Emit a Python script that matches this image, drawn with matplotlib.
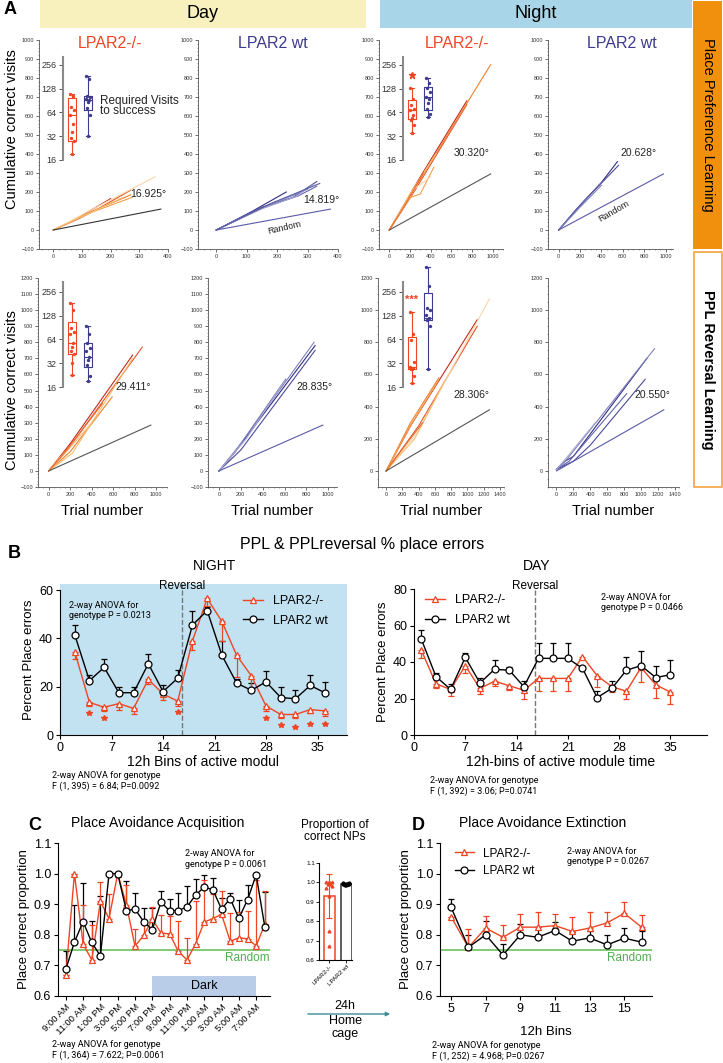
import numpy as np
import matplotlib
matplotlib.use('Agg')
import matplotlib.pyplot as plt
from matplotlib.patches import Rectangle, FancyArrowPatch

plt.rcParams['font.family'] = ['Liberation Sans', 'DejaVu Sans']
NARROW = ['Roboto', 'Liberation Sans', 'DejaVu Sans']

W, H = 723, 1063
RED = '#ee4524'
BLUE = '#3d3b8e'
GREEN = '#6cc35c'

# ---------------- data: panel A (trial number, cumulative correct visits) ----------------
day_ppl_ko = [
    [(0, 0), (70, 50), (200, 165)],
    [(0, 0), (90, 60), (160, 115), (270, 210)],
    [(0, 0), (130, 95), (270, 185)],
    [(0, 0), (110, 80), (275, 172)],
    [(0, 0), (150, 120), (355, 280)],
    [(0, 0), (100, 70), (240, 170)],
]
day_ppl_wt = [
    [(0, 0), (120, 100), (230, 200)],
    [(0, 0), (150, 120), (250, 170), (330, 255)],
    [(0, 0), (140, 110), (270, 180), (330, 230)],
    [(0, 0), (160, 120), (300, 215)],
    [(0, 0), (130, 100), (260, 175), (320, 240)],
    [(0, 0), (180, 140), (340, 245)],
]
night_ppl_ko = [
    [(0, 0), (300, 280), (750, 680)],
    [(0, 0), (250, 210), (750, 660)],
    [(0, 0), (200, 180), (980, 870)],
    [(0, 0), (200, 170), (300, 190), (430, 330)],
    [(0, 0), (250, 220), (400, 280)],
    [(0, 0), (200, 190), (450, 400)],
    [(0, 0), (150, 130), (330, 300)],
]
night_ppl_wt = [
    [(0, 0), (200, 130), (400, 250), (550, 360)],
    [(0, 0), (250, 160), (560, 340)],
    [(0, 0), (150, 100), (410, 255)],
    [(0, 0), (200, 120), (400, 235)],
]
day_rev_ko = [
    [(0, 0), (200, 170), (780, 720)],
    [(0, 0), (250, 200), (870, 770)],
    [(0, 0), (200, 120), (590, 460)],
    [(0, 0), (150, 110), (440, 330)],
    [(0, 0), (100, 80), (400, 300)],
    [(0, 0), (220, 110), (780, 700)],
    [(0, 0), (180, 140), (500, 420)],
]
day_rev_wt = [
    [(0, 0), (150, 120), (880, 780)],
    [(0, 0), (200, 130), (880, 750)],
    [(0, 0), (150, 120), (610, 570)],
    [(0, 0), (200, 170), (870, 800)],
    [(0, 0), (250, 200), (600, 560)],
]
night_rev_ko = [
    [(0, 0), (300, 280), (1120, 940)],
    [(0, 0), (400, 280), (1120, 900)],
    [(0, 0), (300, 300), (650, 580)],
    [(0, 0), (300, 280), (640, 560)],
    [(0, 0), (400, 250), (1270, 1070)],
    [(0, 0), (350, 200), (720, 560)],
    [(0, 0), (250, 170), (450, 300)],
]
night_rev_wt = [
    [(0, 10), (100, 60), (200, 90), (1070, 700)],
    [(0, 10), (200, 60), (400, 160), (1050, 570)],
    [(0, 10), (150, 60), (830, 480)],
    [(0, 10), (120, 70), (1160, 760)],
    [(0, 10), (100, 70), (460, 300)],
]
random_day_ppl = [(0, 0), (375, 110)]
random_night_ppl = [(0, 0), (980, 295)]
random_day_rev = [(0, 0), (950, 285)]
random_night_rev = [(0, 0), (1270, 380)]
angles = ['16.925°', '14.819°', '30.320°', '20.628°', '29.411°', '28.835°', '28.306°', '20.550°']

# inset box plots: required visits to success (whislo, q1, med, q3, whishi)
box_day_ppl = [(19, 28, 60, 98, 111), (32, 68, 92, 104, 186)]
box_night_ppl = [(35, 53, 68, 92, 131), (56, 68, 100, 134, 175)]
box_day_rev = [(23, 42, 58, 107, 186), (19, 29, 38, 57, 94)]
box_night_rev = [(18, 27, 29, 68, 143), (27, 112, 120, 250, 530)]
pts_day_ppl = [[111, 105, 75, 68, 60, 46, 36, 30, 28, 19], [186, 170, 104, 102, 96, 92, 88, 72, 60, 32]]
pts_night_ppl = [[131, 95, 80, 70, 68, 60, 55, 52, 45, 35], [175, 150, 130, 115, 100, 95, 85, 70, 62, 56]]
pts_day_rev = [[186, 150, 90, 80, 75, 58, 52, 45, 42, 32, 23], [94, 75, 57, 50, 45, 38, 35, 30, 22, 19]]
pts_night_rev = [[143, 75, 62, 33, 29, 28, 27, 27, 22, 18], [530, 300, 160, 150, 130, 120, 115, 112, 95, 27]]
outlier_night_ppl = 191

# ---------------- data: panel B ----------------
night_x = [2, 4, 6, 8, 10, 12, 14, 16, 18, 20, 22, 24, 26, 28, 30, 32, 34, 36]
night_ko = [34.5, 13.5, 11.5, 13, 11, 23, 17, 14, 39, 56.5, 47, 33, 24.5, 12, 8.5, 8.5, 10.5, 10]
night_ko_err = [3, 1.5, 1.5, 2.5, 2.5, 2, 2.5, 2, 4, 3, 8, 9, 5, 2, 1.5, 1.5, 1.5, 2]
night_wt = [41.5, 22.5, 28, 17.5, 17.5, 29.5, 18, 23.5, 45.5, 51.5, 33, 21.5, 18.5, 22, 15.5, 15, 20.5, 17.5]
night_wt_err = [4, 2.5, 3.5, 2.5, 2.5, 4, 2.5, 3.5, 6, 1.5, 6, 1.5, 3, 4.5, 4.5, 3.5, 4.5, 4.5]
night_star_x = [4, 6, 16, 28, 30, 32, 34, 36]
night_star_y = [9, 7, 9.4, 7, 4.2, 3.4, 4.4, 4.4]

day_x = [1, 3, 5, 7, 9, 11, 13, 15, 17, 19, 21, 23, 25, 27, 29, 31, 33, 35]
day_ko = [46.5, 28, 25, 38, 25.5, 29.5, 27, 24.5, 31, 31, 31, 43, 32.5, 26.5, 24, 37, 27.5, 23.5]
day_ko_err = [4.5, 2, 3.5, 4, 3, 2.5, 2.5, 5, 7, 7, 7, 1.5, 6, 3, 4, 8, 7, 6.5]
day_wt = [52.5, 32, 25, 42.5, 28.5, 36, 35.5, 26.5, 42, 42, 42, 36.5, 20.5, 25.5, 35.5, 38, 31.5, 33]
day_wt_err = [5, 2, 3, 2.5, 3, 5, 2, 3, 8.5, 8.5, 8.5, 1.5, 3.5, 4, 7.5, 8, 6.5, 8]

# ---------------- data: panel C ----------------
acq_x = list(range(24))
acq_labels = ['9:00 AM', '11:00 AM', '1:00 PM', '3:00 PM', '5:00 PM', '7:00 PM', '9:00 PM',
              '11:00 PM', '1:00 AM', '3:00 AM', '5:00 AM', '7:00 AM']
acq_wt = [0.687, 0.776, 0.843, 0.775, 0.731, 1.0, 1.0, 0.879, 0.884, 0.843, 0.817, 0.907,
          0.878, 0.879, 0.891, 0.93, 0.956, 0.947, 0.884, 0.918, 0.854, 0.914, 0.996, 0.826]
acq_wt_err = [0.06, 0.12, 0.125, 0.07, 0.195, 0, 0, 0.097, 0.053, 0.044, 0.07, 0.037,
              0.04, 0.058, 0.068, 0.053, 0.038, 0.04, 0.036, 0.019, 0.06, 0.05, 0, 0.114]
acq_ko = [0.667, 1.0, 0.77, 0.718, 0.909, 0.853, 1.0, 0.898, 0.763, 0.798, 0.851, 0.806,
          0.803, 0.746, 0.718, 0.77, 0.842, 0.853, 0.867, 0.779, 0.79, 0.787, 0.764, 0.834]
acq_ko_err = [0, 0, 0.128, 0.113, 0.064, 0.08, 0, 0.064, 0.057, 0.05, 0.039, 0.058,
              0.057, 0.098, 0.072, 0.14, 0.138, 0.081, 0.077, 0.092, 0.084, 0.091, 0.215, 0.11]
np_groups = ['LPAR2-/-', 'LPAR2 wt']
np_mean = [0.93, 0.99]
np_sd = [0.115, 0.006]
np_ko_pts = [1.0, 1.0, 1.0, 0.99, 0.99, 0.98, 0.97, 0.93, 0.75, 0.67]
np_wt_pts = [0.995, 0.99, 0.99, 0.985, 0.99, 0.995, 0.99, 0.985]

# ---------------- data: panel D ----------------
ext_x = [5, 6, 7, 8, 9, 10, 11, 12, 13, 14, 15, 16]
ext_ko = [0.859, 0.759, 0.822, 0.792, 0.825, 0.825, 0.83, 0.811, 0.822, 0.839, 0.87, 0.825]
ext_ko_err = [0, 0.06, 0.04, 0.041, 0.044, 0.048, 0.039, 0.046, 0.053, 0.034, 0.036, 0.041]
ext_wt = [0.89, 0.759, 0.8, 0.734, 0.8, 0.792, 0.814, 0.779, 0.79, 0.767, 0.789, 0.776]
ext_wt_err = [0.026, 0.04, 0.044, 0.037, 0.036, 0.033, 0.028, 0.029, 0.022, 0.031, 0.033, 0.035]

KO_COLS = ['#c0281c', '#e2552a', '#f0802e', '#f5a048', '#fbd7a8', '#f8bd6e', '#e86a2c']
WT_COLS = ['#2e2e80', '#4a4a9a', '#6464ac', '#8080bc', '#a8a8d4', '#5858a4']

fig = plt.figure(figsize=(W / 100, H / 100), dpi=100)


def px_axes(x0, y0, x1, y1):
    return fig.add_axes([x0 / W, 1 - y1 / H, (x1 - x0) / W, (y1 - y0) / H])


def ftext(x, y, s, **kw):
    fig.text(x / W, 1 - y / H, s, **kw)


def frect(x0, y0, x1, y1, **kw):
    fig.add_artist(Rectangle((x0 / W, 1 - y1 / H), (x1 - x0) / W, (y1 - y0) / H,
                             transform=fig.transFigure, **kw))


# ---------------- headers ----------------
frect(40, 0, 366, 28, color='#f8f0bd', lw=0)
frect(380, 0, 692, 28, color='#a8d6e8', lw=0)
ftext(203, 14, 'Day', ha='center', va='center', fontsize=13)
ftext(536, 14, 'Night', ha='center', va='center', fontsize=13)
frect(693, 1, 722, 249, color='#f0900c', lw=0)
frect(694, 252, 722, 487, facecolor='white', edgecolor='#f3a440', lw=1.2)
ftext(708, 125, 'Place Preference Learning', ha='center', va='center', rotation=-90, fontsize=10.5)
ftext(708, 370, 'PPL Reversal Learning', ha='center', va='center', rotation=-90,
      fontsize=10.5, fontweight='bold')
ftext(4, 10, 'A', fontsize=13, fontweight='bold', va='center')


def cum_panel(box, xlim, ylim, xticks, yticks, lines, cols, rnd, rnd_col, angle, apos):
    ax = px_axes(*box)
    for pts, c in zip(lines, cols):
        xs, ys = zip(*pts)
        ax.plot(xs, ys, color=c, lw=0.8)
    rx, ry = zip(*rnd)
    ax.plot(rx, ry, color=rnd_col, lw=0.8)
    ax.set_xlim(*xlim)
    ax.set_ylim(*ylim)
    ax.set_xticks(xticks)
    ax.set_yticks(yticks)
    for s in ['top', 'right']:
        ax.spines[s].set_visible(False)
    for s in ['left', 'bottom']:
        ax.spines[s].set_color('#555555')
        ax.spines[s].set_linewidth(0.6)
    ax.minorticks_on()
    ax.tick_params(labelsize=4, length=2, width=0.5, colors='#333333', pad=1.5)
    ax.tick_params(which='minor', length=1, width=0.4, colors='#555555')
    ax.text(apos[0], apos[1], angle, ha='right', va='center', fontsize=7.5, color='#222222')
    return ax


def inset_box(box, ylim, stats, pts):
    ax = px_axes(*box)
    ax.set_yscale('log', base=2)
    st = []
    for s in stats:
        st.append(dict(whislo=s[0], q1=s[1], med=s[2], q3=s[3], whishi=s[4], fliers=[]))
    res = ax.bxp(st, positions=[1, 2], widths=0.5, showcaps=True, patch_artist=False)
    for i, col in enumerate([RED, BLUE]):
        for key in ['boxes', 'medians']:
            res[key][i].set_color(col)
            res[key][i].set_linewidth(0.8)
        for j in (2 * i, 2 * i + 1):
            res['whiskers'][j].set_color(col)
            res['whiskers'][j].set_linewidth(0.8)
            res['caps'][j].set_color(col)
            res['caps'][j].set_linewidth(0.8)
        offs = [-0.12, 0.1, -0.05, 0.14, -0.14, 0.05, 0.0, -0.1, 0.12, 0.02, -0.03]
        for k, v in enumerate(pts[i]):
            ax.plot(i + 1 + offs[k % len(offs)] * 0.8, v, 'o', ms=1.4, color=col)
    for a in ax.lines:
        a.set_clip_on(False)
    ax.set_ylim(*ylim)
    ax.set_xlim(0.44, 2.75)
    ax.set_yticks([16, 32, 64, 128, 256])
    ax.set_yticklabels(['16', '32', '64', '128', '256'])
    ax.yaxis.set_minor_locator(matplotlib.ticker.NullLocator())
    ax.patch.set_alpha(0)
    for s in ['top', 'right', 'bottom']:
        ax.spines[s].set_visible(False)
    ax.spines['left'].set_color('#8a8a8a')
    ax.spines['left'].set_linewidth(1.5)
    ax.spines['left'].set_bounds(16, ylim[1])
    ax.set_xticks([])
    ax.tick_params(axis='y', labelsize=6.5, length=3, width=0.6, pad=1.5, colors='#333333')
    return ax


# row 1
a1 = cum_panel((39, 40, 168, 249), (-50, 400), (-100, 1000), range(0, 401, 100), range(-100, 1001, 100),
               day_ppl_ko, KO_COLS, random_day_ppl, '#333333', angles[0], (395, 190))
a2 = cum_panel((198, 40, 338, 249), (-60, 400), (-100, 1000), range(0, 401, 100), range(-100, 1001, 100),
               day_ppl_wt, WT_COLS, random_day_ppl, '#5a5aa8', angles[1], (405, 158))
a3 = cum_panel((379, 40, 503, 249), (-100, 1100), (-100, 1000), range(0, 1001, 200), range(-100, 1001, 100),
               night_ppl_ko, KO_COLS, random_night_ppl, '#555555', angles[2], (970, 405))
a4 = cum_panel((548, 40, 673, 249), (-100, 1070), (-100, 1000), range(0, 1001, 200), range(-100, 1001, 100),
               night_ppl_wt, WT_COLS, random_night_ppl, '#5a5aa8', angles[3], (915, 405))
a2.text(225, 12, 'Random', rotation=13, ha='center', va='center', fontsize=6.5, color='#222222')
a4.text(520, 100, 'Random', rotation=30, ha='center', va='center', fontsize=6.5, color='#222222')

# row 2
a5 = cum_panel((38, 278, 167, 487), (-100, 1100), (-100, 1200), range(0, 1001, 200), range(-100, 1201, 100),
               day_rev_ko, KO_COLS, random_day_rev, '#555555', angles[4], (950, 520))
a6 = cum_panel((208, 278, 337, 487), (-100, 1080), (-100, 1200), range(0, 1001, 200), range(-100, 1201, 100),
               day_rev_wt, WT_COLS, random_day_rev, '#5a5aa8', angles[5], (1040, 520))
a7 = cum_panel((378, 278, 504, 487), (-100, 1450), (-100, 1200), range(0, 1401, 200), range(0, 1201, 200),
               night_rev_ko, KO_COLS, random_night_rev, '#555555', angles[6], (1270, 475))
a8 = cum_panel((548, 278, 679, 487), (-100, 1450), (-100, 1200), range(0, 1401, 200), range(0, 1201, 200),
               night_rev_wt, WT_COLS, random_night_rev, '#5a5aa8', angles[7], (1350, 475))

for ax in (a5, a6, a7, a8):
    ax.set_xlabel('Trial number', fontsize=10.5, labelpad=5)

ftext(110, 44, 'LPAR2-/-', ha='center', va='center', fontsize=11.5, color=RED)
ftext(273, 44, 'LPAR2 wt', ha='center', va='center', fontsize=11.5, color=BLUE)
ftext(457, 44, 'LPAR2-/-', ha='center', va='center', fontsize=11.5, color=RED)
ftext(622, 44, 'LPAR2 wt', ha='center', va='center', fontsize=11.5, color=BLUE)
ftext(12, 129, 'Cumulative correct visits', ha='center', va='center', rotation=90, fontsize=10.5)
ftext(12, 390, 'Cumulative correct visits', ha='center', va='center', rotation=90, fontsize=10.5)

i1 = inset_box((63, 57, 100, 160), (16, 323), box_day_ppl, pts_day_ppl)
ftext(100, 106, 'Required Visits\nto success', ha='left', va='center', fontsize=8.5,
      linespacing=0.85, color='#222222')
i3 = inset_box((403, 57, 440, 160), (16, 323), box_night_ppl, pts_night_ppl)
i3.plot(1, outlier_night_ppl, marker='*', ms=5, color=RED, clip_on=False)
i5 = inset_box((63, 282, 100, 387), (16, 340), box_day_rev, pts_day_rev)
i7 = inset_box((403, 282, 440, 387), (16, 340), box_night_rev, pts_night_rev)
i7.text(1, 205, '***', ha='center', va='center', fontsize=8, color=RED, fontweight='bold')

# ---------------- panel B ----------------
ftext(8, 553, 'B', fontsize=13, fontweight='bold', va='center')
ftext(362, 545, 'PPL & PPLreversal % place errors', ha='center', va='center', fontsize=11.5)


def err_lines(ax, x, ko, ko_err, wt, wt_err, ko_down=True):
    z = [0] * len(x)
    kerr = [ko_err, z] if ko_down else [z, ko_err]
    ax.errorbar(x, wt, yerr=[z, wt_err], fmt='none', ecolor='black', elinewidth=0.9, capsize=2, capthick=0.9)
    ax.errorbar(x, ko, yerr=kerr, fmt='none', ecolor=RED, elinewidth=0.9, capsize=2, capthick=0.9)
    h1, = ax.plot(x, ko, '-^', color=RED, mfc='white', mec=RED, ms=4.5, lw=1, mew=0.9,
                  label='LPAR2-/-', zorder=4)
    h2, = ax.plot(x, wt, '-o', color='black', mfc='white', mec='black', ms=5, lw=1, mew=0.9,
                  label='LPAR2 wt', zorder=5)
    return h1, h2


def style_b(ax):
    for s in ['top', 'right']:
        ax.spines[s].set_visible(False)
    ax.tick_params(labelsize=9, length=3, width=0.8, pad=2)


bn = px_axes(60, 584, 347, 735)
bn.set_facecolor('#c3e2f1')
err_lines(bn, night_x, night_ko, night_ko_err, night_wt, night_wt_err)
bn.plot(night_star_x, night_star_y, '*', color=RED, ms=4, ls='none')
bn.axvline(16.6, color='#777777', ls='--', lw=1)
bn.set_xlim(0, 39)
bn.set_ylim(0, 62.5)
bn.set_yticks([0, 20, 40, 60])
bn.set_xticks([0, 7, 14, 21, 28, 35])
bn.spines['left'].set_bounds(0, 60)
style_b(bn)
bn.set_ylabel('Percent Place errors', fontsize=9.5, labelpad=3)
bn.set_xlabel('12h Bins of active modul', fontsize=10, labelpad=1)
bn.legend(loc='upper left', bbox_to_anchor=(0.6, 1.0), frameon=False, fontsize=9, handlelength=1.6,
          labelspacing=0.6)
bn.text(1.2, 55.5, '2-way ANOVA for\ngenotype P = 0.0213', fontsize=6.5, va='top', family=NARROW)
ftext(182, 586, 'Reversal', ha='center', va='center', fontsize=8.5)
ftext(214, 566, 'NIGHT', ha='center', va='center', fontsize=10)
ftext(52, 781, '2-way ANOVA for genotype\nF (1, 395) = 6.84; P=0.0092', fontsize=6.5, va='center',
      family=NARROW)

bd = px_axes(414, 589, 707, 735)
err_lines(bd, day_x, day_ko, day_ko_err, day_wt, day_wt_err)
bd.axvline(16.5, color='#777777', ls='--', lw=1)
bd.set_xlim(0, 40)
bd.set_ylim(0, 80)
bd.set_yticks([0, 20, 40, 60, 80])
bd.set_xticks([0, 7, 14, 21, 28, 35])
style_b(bd)
bd.set_ylabel('Percent Place errors', fontsize=9.5, labelpad=3)
bd.set_xlabel('12h-bins of active module time', fontsize=10, labelpad=1)
bd.legend(loc='upper left', bbox_to_anchor=(0.0, 1.04), frameon=False, fontsize=9, handlelength=1.6,
          labelspacing=0.6)
bd.text(25.5, 78, '2-way ANOVA for\ngenotype P = 0.0466', fontsize=6.5, va='top', family=NARROW)
ftext(535, 586, 'Reversal', ha='center', va='center', fontsize=8.5)
ftext(537, 566, 'DAY', ha='center', va='center', fontsize=10)
ftext(430, 786, '2-way ANOVA for genotype\nF (1, 392) = 3.06; P=0.0741', fontsize=6.5, va='center',
      family=NARROW)

# ---------------- panel C ----------------
ftext(28, 825, 'C', fontsize=13, fontweight='bold', va='center')
ftext(158, 823, 'Place Avoidance Acquisition', ha='center', va='center', fontsize=10)
ac = px_axes(58, 843, 270, 996)
ac.add_patch(Rectangle((10, 0.6), 12, 0.065, color='#b9cde8', lw=0, zorder=0))
ac.text(16, 0.633, 'Dark', ha='center', va='center', fontsize=9)
ac.axhline(0.75, color=GREEN, lw=1.2, zorder=1)
ac.text(23.6, 0.723, 'Random', ha='right', va='center', fontsize=8.5, color='#4fae4f')
err_lines(ac, acq_x, acq_ko, acq_ko_err, acq_wt, acq_wt_err, ko_down=False)
ac.set_xlim(-0.9, 23.6)
ac.set_ylim(0.6, 1.1)
ac.set_yticks([0.6, 0.7, 0.8, 0.9, 1.0, 1.1])
ac.set_xticks(acq_x[::2])
ac.set_xticklabels(acq_labels, rotation=45, ha='right', rotation_mode='anchor')
style_b(ac)
ac.tick_params(axis='x', labelsize=6.8, pad=1.5)
ac.set_ylabel('Place correct proportion', fontsize=9.5, labelpad=3)
ac.text(13.8, 1.08, '2-way ANOVA for\ngenotype P = 0.0061', fontsize=6.5, va='top', family=NARROW)
ftext(52, 1050, '2-way ANOVA for genotype\nF (1, 364) = 7.622; P=0.0061', fontsize=6.5, va='center',
      family=NARROW)

ftext(335, 831, 'Proportion of\ncorrect NPs', ha='center', va='center', fontsize=8.5, linespacing=1.1)
ab = px_axes(319, 863, 352, 960)
ab.bar([1, 2], np_mean, width=0.65, bottom=0, color='none', edgecolor=[RED, '#333333'], lw=1.1)
ab.errorbar([1], np_mean[:1], yerr=np_sd[:1], fmt='none', ecolor=RED, elinewidth=0.8,
            capsize=2, capthick=0.8)
ab.errorbar([2], np_mean[1:], yerr=np_sd[1:], fmt='none', ecolor='black', elinewidth=0.8,
            capsize=2, capthick=0.8)
offs = [-0.15, 0.15, 0.0, -0.08, 0.08, 0.18, -0.18, 0.0, 0.0, 0.0]
ab.plot([1 + o for o in offs[:len(np_ko_pts)]], np_ko_pts, '^', color=RED, ms=2, ls='none')
ab.plot([2 + o for o in offs[:len(np_wt_pts)]], np_wt_pts, 'o', color='black', ms=2, ls='none')
ab.set_xlim(0.41, 2.35)
ab.set_ylim(0.6, 1.1)
ab.set_yticks([0.6, 0.7, 0.8, 0.9, 1.0, 1.1])
ab.set_xticks([1, 2])
ab.set_xticklabels(np_groups, rotation=45, ha='right', rotation_mode='anchor')
for s in ['top', 'right']:
    ab.spines[s].set_visible(False)
ab.tick_params(labelsize=4.5, length=2, width=0.6, pad=1)

fig.add_artist(FancyArrowPatch((305 / W, 1 - 1014 / H), (393 / W, 1 - 1014 / H),
                               transform=fig.transFigure, arrowstyle='-|>', mutation_scale=6,
                               color='#3f8a95', lw=1))
ftext(345, 1006, '24h', ha='center', va='center', fontsize=9)
ftext(345, 1021, 'Home', ha='center', va='center', fontsize=9)
ftext(345, 1034, 'cage', ha='center', va='center', fontsize=9)

# ---------------- panel D ----------------
ftext(412, 825, 'D', fontsize=13, fontweight='bold', va='center')
ftext(543, 823, 'Place Avoidance Extinction', ha='center', va='center', fontsize=10)
adx = px_axes(440, 843, 652, 996)
adx.axhline(0.75, color=GREEN, lw=1.2, zorder=1)
adx.text(16.6, 0.724, 'Random', ha='right', va='center', fontsize=8.5, color='#4fae4f')
err_lines(adx, ext_x, ext_ko, ext_ko_err, ext_wt, ext_wt_err, ko_down=False)
adx.set_xlim(4.36, 16.6)
adx.set_ylim(0.6, 1.1)
adx.set_yticks([0.6, 0.7, 0.8, 0.9, 1.0, 1.1])
adx.set_xticks([5, 7, 9, 11, 13, 15])
style_b(adx)
adx.set_ylabel('Place correct proportion', fontsize=9.5, labelpad=3)
adx.set_xlabel('12h Bins', fontsize=9.5, labelpad=8)
adx.legend(loc='upper left', bbox_to_anchor=(0.02, 1.04), frameon=False, fontsize=8.5,
           handlelength=1.6, labelspacing=0.5)
adx.text(11.7, 1.087, '2-way ANOVA for\ngenotype P = 0.0267', fontsize=6.5, va='top', family=NARROW)
ftext(432, 1051, '2-way ANOVA for genotype\nF (1, 252) = 4.968; P=0.0267', fontsize=6.5, va='center',
      family=NARROW)

fig.savefig('out.png', dpi=100)
